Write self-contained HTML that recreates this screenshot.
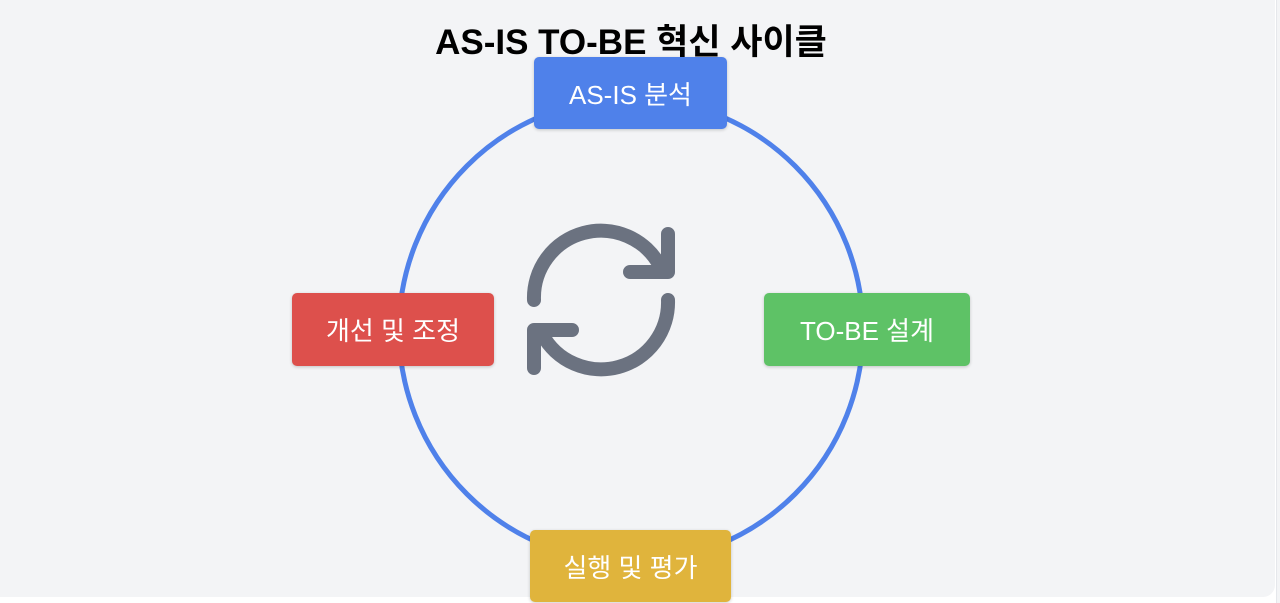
<!DOCTYPE html>
<html><head><meta charset="utf-8"><style>
html,body{margin:0;padding:0;background:#fff;}
body{width:1280px;height:603px;position:relative;overflow:hidden;font-family:"Liberation Sans","Noto Sans CJK KR",sans-serif;}
.bg{position:absolute;left:0;top:0;width:1275px;height:597px;background:#f3f4f6;border-bottom-right-radius:12px;}
.edge{position:absolute;left:1276px;top:0;width:4px;height:603px;background:#f3f4f6;border-left:1px solid #e5e7eb;}
h1{position:absolute;left:0;width:1262px;top:14px;margin:0;text-align:center;font-size:35px;font-weight:bold;color:#000;}
.b{position:absolute;color:#fff;font-size:26px;display:flex;align-items:center;justify-content:center;border-radius:5px;box-shadow:0 1px 3px rgba(0,0,0,.2);}
</style></head><body>
<div class="bg"></div><div class="edge"></div>
<svg style="position:absolute;left:0;top:0" width="1280" height="603">
<circle cx="631" cy="330" r="232" fill="none" stroke="#4f81ea" stroke-width="5"/>
<g fill="none" stroke="#6b7280" stroke-width="14" stroke-linecap="round" stroke-linejoin="round">
<path d="M534 300 A67 67 0 0 1 660 266"/>
<path d="M668 234 L668 272 L630 272"/>
<path d="M668 300 A67 67 0 0 1 542 334"/>
<path d="M572 330 L534 330 L534 368"/>
</g>
</svg>
<h1>AS-IS TO-BE 혁신 사이클</h1>
<div class="b" style="left:534px;top:57px;width:193px;height:72px;background:#4f81ea">AS-IS 분석</div>
<div class="b" style="left:764px;top:293px;width:206px;height:73px;background:#5ec266">TO-BE 설계</div>
<div class="b" style="left:530px;top:530px;width:201px;height:72px;background:#e0b43c">실행 및 평가</div>
<div class="b" style="left:292px;top:293px;width:202px;height:73px;background:#dd504c">개선 및 조정</div>
</body></html>
